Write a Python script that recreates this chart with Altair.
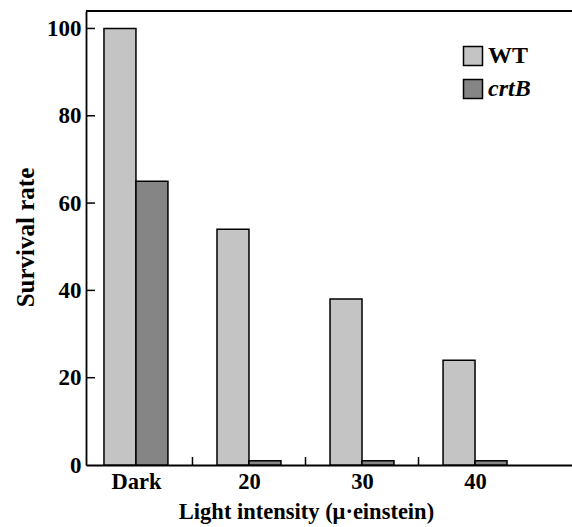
import altair as alt
import pandas as pd

categories = ["Dark", "20", "30", "40"]
wt = [100, 54, 38, 24]
crtb = [65, 1, 1, 1]
series = ["WT", "crtB"]
colors = ["#c4c4c4", "#858585"]
y_ticks = [0, 20, 40, 60, 80, 100]

FONT = "Liberation Serif"
W, H = 486, 454
BAR = 0.283

rows = []
for i, c in enumerate(categories):
    rows.append({"cat": c, "pos": i, "series": "WT", "sidx": 0, "value": wt[i]})
    rows.append({"cat": c, "pos": i, "series": "crtB", "sidx": 1, "value": crtb[i]})
df = pd.DataFrame(rows)

xscale = alt.Scale(domain=[-0.442, 3.858], nice=False, zero=False)
yscale = alt.Scale(domain=[0, 104], nice=False)

label_expr = "[" + ",".join("'%s'" % c for c in categories) + "][datum.value]"

x_axis = alt.Axis(
    values=list(range(len(categories))), labelExpr=label_expr,
    title="Light intensity (μ·einstein)", ticks=False, grid=False,
    domainColor="black", domainWidth=1.8,
    labelFont=FONT, labelFontSize=22.5, labelFontWeight="bold", labelColor="black",
    labelPadding=5,
    titleFont=FONT, titleFontSize=22.5, titleFontWeight="bold", titleColor="black",
    titleX=220, titleY=53, titleBaseline="alphabetic", titleAlign="center",
)
y_axis = alt.Axis(
    values=y_ticks, title="Survival rate", ticks=False, grid=False,
    domainColor="black", domainWidth=1.8,
    labelFont=FONT, labelFontSize=23, labelFontWeight="bold", labelColor="black",
    labelPadding=5,
    titleFont=FONT, titleFontSize=25, titleFontWeight="bold", titleColor="black",
    titleX=-53, titleY=226, titleBaseline="alphabetic", titleAlign="center",
    titleAngle=270,
)

bars = alt.Chart(df).transform_calculate(
    x0=f"datum.pos + (datum.sidx - 1) * {BAR}",
    x1=f"datum.pos + datum.sidx * {BAR}",
).mark_bar(stroke="black", strokeWidth=1.5).encode(
    x=alt.X("x0:Q", scale=xscale, axis=x_axis),
    x2="x1:Q",
    y=alt.Y("value:Q", scale=yscale, axis=y_axis),
    y2=alt.datum(0),
    fill=alt.Fill("series:N", scale=alt.Scale(domain=series, range=colors),
                  legend=alt.Legend(
                      title=None, orient="none", legendX=375, legendY=33,
                      symbolType="square", symbolSize=361, symbolStrokeColor="black",
                      symbolStrokeWidth=1.5, symbolOpacity=1,
                      labelFont=FONT, labelFontSize=24, labelFontWeight="bold",
                      labelColor="black", rowPadding=7, padding=0, labelOffset=3,
                      labelFontStyle={"expr": "datum.label === 'crtB' ? 'italic' : 'normal'"},
                  )),
)

ytick_df = pd.DataFrame({"t": y_ticks[1:]})
yticks = alt.Chart(ytick_df).mark_rule(color="black", strokeWidth=1.5).encode(
    y=alt.Y("t:Q", scale=yscale, axis=y_axis),
    x=alt.value(0), x2=alt.value(9),
)

xtick_df = pd.DataFrame({"m": [i + 0.5 for i in range(len(categories) - 1)]})
xticks = alt.Chart(xtick_df).mark_rule(color="black", strokeWidth=1.5).encode(
    x=alt.X("m:Q", scale=xscale, axis=x_axis),
    y=alt.value(H), y2=alt.value(H - 8),
)

top = alt.Chart(ytick_df).mark_rule(color="black", strokeWidth=1.8).encode(
    y=alt.value(0), x=alt.value(0), x2=alt.value(W),
)

chart = alt.layer(bars, yticks, xticks, top).properties(
    width=W, height=H,
    autosize=alt.AutoSizeParams(type="none"),
    padding={"left": 86, "top": 11, "right": 0, "bottom": 62},
).configure_view(stroke=None).configure(background="white")

chart.save("out.html", embed_options={"renderer": "svg", "actions": False})
